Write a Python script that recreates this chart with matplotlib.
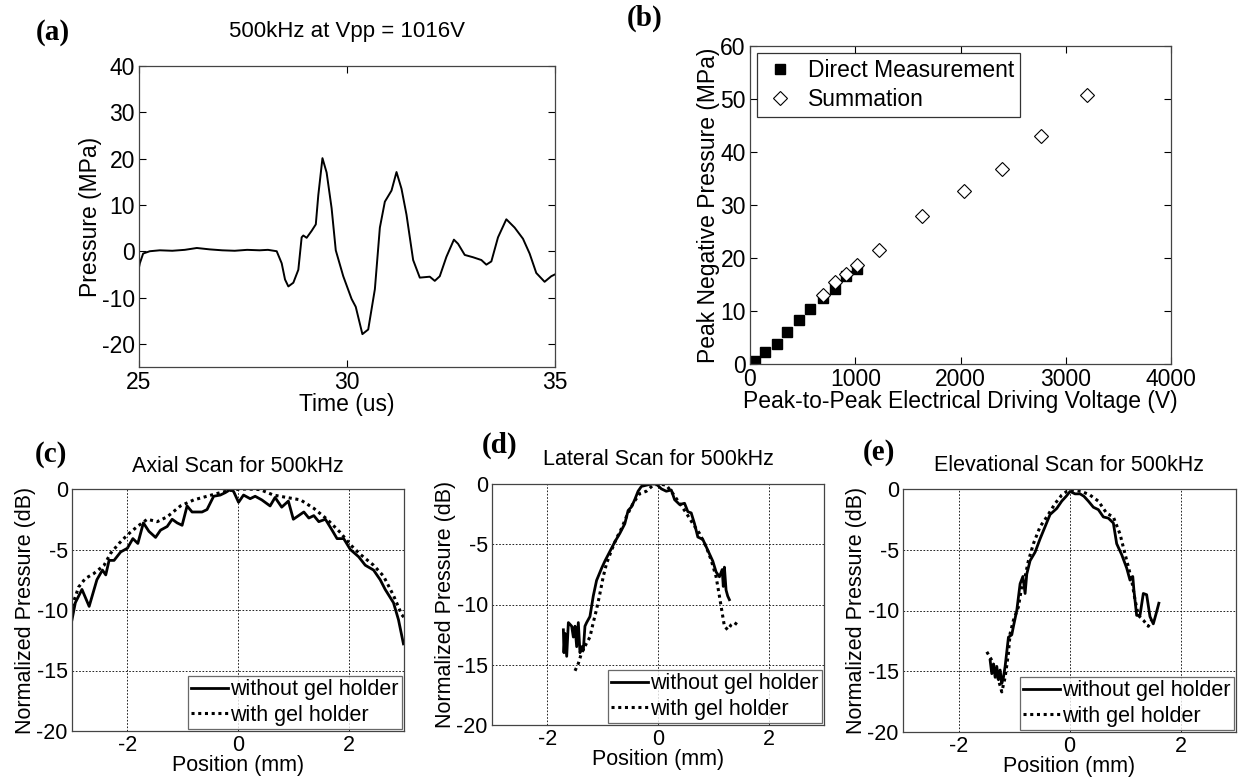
import numpy as np
import matplotlib
matplotlib.use("Agg")
import matplotlib.pyplot as plt

plt.rcParams['font.family'] = ['Liberation Sans', 'DejaVu Sans']
plt.rcParams['axes.unicode_minus'] = False

# (a) waveform
t_a = [25.0, 25.02, 25.1, 25.26, 25.5, 25.8, 26.1, 26.39, 26.7, 27.0, 27.3, 27.6,
       27.9, 28.1, 28.31, 28.43, 28.51, 28.59, 28.71, 28.83, 28.91, 28.95, 29.03,
       29.15, 29.25, 29.31, 29.41, 29.51, 29.63, 29.73, 29.91, 30.11, 30.21, 30.37,
       30.51, 30.67, 30.79, 30.91, 31.07, 31.19, 31.31, 31.43, 31.59, 31.75, 31.99,
       32.11, 32.23, 32.39, 32.57, 32.67, 32.83, 33.03, 33.23, 33.35, 33.47, 33.63,
       33.83, 34.03, 34.23, 34.39, 34.55, 34.75, 34.91, 35.0]
p_a = [-3.5, -2.6, -0.5, 0.0, 0.2, 0.1, 0.3, 0.7, 0.4, 0.2, 0.1, 0.3,
       0.2, 0.3, 0.0, -2.6, -6.1, -7.6, -6.8, -4.0, 3.0, 3.4, 2.9,
       4.4, 5.8, 12.1, 20.1, 17.0, 9.3, 0.2, -5.4, -10.3, -12.0, -17.9,
       -16.9, -8.2, 5.1, 10.7, 13.1, 17.1, 13.5, 7.9, -1.9, -5.7, -5.5,
       -6.4, -5.4, -1.2, 2.5, 1.6, -0.8, -1.3, -1.9, -2.9, -2.2, 3.0,
       6.9, 5.1, 2.7, -0.5, -4.7, -6.6, -5.4, -5.0]

# (b) peak negative pressure vs voltage
v_direct = [45, 140, 254, 352, 462, 572, 692, 805, 914, 1018]
p_direct = [0.5, 2.2, 3.8, 6.0, 8.3, 10.4, 12.5, 14.1, 16.6, 18.0]
v_sum = [692, 805, 914, 1018, 1229, 1632, 2031, 2395, 2767, 3198]
p_sum = [13.0, 15.4, 16.9, 18.6, 21.5, 28.0, 32.7, 36.8, 43.1, 50.8]

# (c) axial scan
xc_no = [-3.0, -2.94, -2.82, -2.69, -2.55, -2.45, -2.39, -2.33, -2.24, -2.12, -2.0,
         -1.9, -1.81, -1.71, -1.61, -1.49, -1.4, -1.28, -1.19, -1.1, -1.01, -0.92,
         -0.83, -0.65, -0.56, -0.44, -0.32, -0.23, -0.14, -0.08, 0.01, 0.1, 0.22,
         0.31, 0.43, 0.58, 0.67, 0.79, 0.91, 1.0, 1.19, 1.28, 1.37, 1.46, 1.58,
         1.7, 1.79, 1.91, 2.03, 2.18, 2.3, 2.45, 2.57, 2.66, 2.81, 2.9, 2.99]
yc_no = [-10.8, -9.4, -8.3, -9.7, -7.5, -6.7, -7.1, -5.9, -5.9, -5.2, -4.9,
         -4.1, -4.5, -2.8, -3.5, -4.0, -3.4, -3.1, -2.5, -2.8, -3.0, -1.4,
         -1.9, -1.9, -1.7, -0.6, -0.5, -0.3, -0.05, -0.2, -1.1, -0.5, -0.8,
         -0.6, -0.9, -1.4, -0.7, -1.5, -1.0, -2.5, -1.9, -2.4, -2.2, -2.7, -2.5,
         -3.4, -4.1, -4.1, -5.0, -5.6, -6.3, -6.7, -7.5, -8.3, -9.4, -10.8, -12.8]
xc_gel = [-3.0, -2.88, -2.76, -2.61, -2.42, -2.3, -2.15, -2.0, -1.82, -1.64, -1.46,
          -1.28, -1.04, -0.8, -0.56, -0.32, -0.08, 0.16, 0.4, 0.64, 0.88, 1.13,
          1.37, 1.61, 1.85, 2.03, 2.21, 2.45, 2.63, 2.81, 2.96, 3.0]
yc_gel = [-9.7, -8.1, -7.4, -7.0, -6.3, -5.3, -4.5, -3.8, -3.1, -2.5, -2.7,
          -2.3, -1.4, -0.9, -0.6, -0.3, -0.05, 0.0, -0.05, -0.5, -0.7, -0.9,
          -1.6, -2.5, -3.6, -4.6, -5.4, -6.3, -7.2, -8.8, -10.4, -10.6]

# (d) lateral scan
xd_no = [-1.71, -1.7, -1.68, -1.65, -1.62, -1.56, -1.53, -1.5, -1.47, -1.44, -1.41,
         -1.38, -1.35, -1.32, -1.29, -1.23, -1.17, -1.11, -1.02, -0.96, -0.87, -0.78,
         -0.69, -0.6, -0.54, -0.48, -0.42, -0.36, -0.3, -0.21, -0.12, -0.03, 0.06,
         0.15, 0.24, 0.3, 0.39, 0.48, 0.54, 0.6, 0.66, 0.72, 0.81, 0.9, 0.99,
         1.05, 1.11, 1.16, 1.18, 1.2, 1.23, 1.26, 1.29]
yd_no = [-12.1, -14.0, -12.4, -14.3, -11.5, -11.8, -12.7, -11.8, -13.5, -11.5, -14.0,
         -13.5, -13.8, -11.8, -11.5, -11.0, -9.3, -8.0, -7.0, -6.4, -5.6, -4.8,
         -4.1, -3.3, -2.2, -1.9, -1.3, -0.6, -0.2, -0.1, 0.0, 0.0, -0.4,
         -0.6, -0.5, -1.3, -1.7, -1.6, -2.3, -2.4, -3.3, -4.4, -4.6, -5.5, -6.4,
         -7.3, -7.7, -7.1, -8.5, -6.9, -8.8, -9.3, -9.6]
xd_gel = [-1.5, -1.44, -1.38, -1.29, -1.23, -1.17, -1.11, -1.05, -0.99, -0.93, -0.84,
          -0.75, -0.66, -0.57, -0.45, -0.33, -0.21, -0.09, 0.03, 0.15, 0.27, 0.39,
          0.51, 0.63, 0.75, 0.87, 0.96, 1.05, 1.11, 1.16, 1.2, 1.26, 1.32, 1.38, 1.47]
yd_gel = [-15.5, -14.9, -14.0, -13.2, -12.7, -11.5, -10.4, -9.1, -7.7, -6.6, -5.5,
          -4.5, -3.7, -2.7, -1.6, -0.8, -0.6, -0.1, 0.0, -0.1, -0.8, -1.6,
          -2.4, -3.3, -4.1, -5.2, -6.3, -7.7, -9.3, -10.7, -11.8, -12.1, -11.7, -11.5, -11.8]

# (e) elevational scan
xe_no = [-1.43, -1.4, -1.37, -1.34, -1.31, -1.28, -1.25, -1.22, -1.19, -1.16, -1.1,
         -1.04, -1.01, -0.95, -0.89, -0.84, -0.8, -0.77, -0.71, -0.62, -0.53, -0.44,
         -0.35, -0.23, -0.14, -0.06, 0.01, 0.1, 0.19, 0.26, 0.34, 0.43, 0.52, 0.61,
         0.7, 0.79, 0.85, 0.94, 1.03, 1.09, 1.14, 1.16, 1.21, 1.27, 1.33, 1.39,
         1.45, 1.51, 1.57, 1.61]
ye_no = [-14.1, -15.2, -14.4, -15.5, -14.6, -15.7, -14.9, -16.0, -15.5, -14.6, -12.2,
         -12.0, -11.3, -10.0, -7.8, -7.2, -8.6, -7.0, -5.9, -5.2, -4.1, -3.1,
         -2.1, -1.6, -1.0, -0.6, -0.2, -0.4, -0.4, -0.6, -1.0, -1.5, -1.7, -2.3,
         -2.4, -2.8, -4.5, -5.4, -6.5, -7.5, -7.2, -8.3, -10.4, -10.4, -8.6, -8.7,
         -10.5, -11.1, -10.1, -9.4]
xe_gel = [-1.49, -1.4, -1.31, -1.22, -1.16, -1.1, -1.07, -1.01, -0.92, -0.86, -0.8,
          -0.74, -0.65, -0.53, -0.41, -0.26, -0.14, -0.05, 0.07, 0.22, 0.37, 0.52,
          0.67, 0.79, 0.91, 0.97, 1.06, 1.12, 1.18, 1.24, 1.33, 1.42, 1.48]
ye_gel = [-13.4, -14.1, -15.2, -16.7, -15.5, -13.5, -11.9, -10.8, -9.7, -8.0, -7.2,
          -5.9, -4.5, -3.1, -2.3, -1.2, -0.5, -0.2, -0.1, -0.2, -0.5, -1.0,
          -2.0, -2.3, -3.7, -4.8, -6.4, -7.5, -9.1, -10.4, -10.8, -11.3, -10.8]

W, H = 1241, 781
fig = plt.figure(figsize=(W / 100, H / 100), dpi=100)


def add_ax(l, t, r, b):
    return fig.add_axes([l / W, 1 - b / H, (r - l) / W, (b - t) / H])


def style(ax, fs):
    ax.tick_params(direction='in', top=True, right=True, length=5, labelsize=fs,
                   width=0.8, pad=3)
    for s in ax.spines.values():
        s.set_color('#444444')
        s.set_linewidth(0.9)


# panel (a)
ax = add_ax(139, 66, 555, 367)
ax.plot(t_a, p_a, color='black', lw=1.4)
ax.set_xlim(25, 35)
ax.set_ylim(-25, 40)
ax.set_xticks([25, 30, 35])
ax.set_yticks(range(-20, 41, 10))
style(ax, 16.5)
ax.set_xlabel('Time (us)', fontsize=16.5, labelpad=-1)
ax.set_ylabel('Pressure (MPa)', fontsize=16.5, labelpad=0)
ax.set_title('500kHz at Vpp = 1016V', fontsize=16, pad=21)

# panel (b)
ax = add_ax(750, 46, 1171, 364)
ax.plot(v_direct, p_direct, 's', color='black', ms=7.5, label='Direct Measurement')
ax.plot(v_sum, p_sum, 'D', mfc='white', mec='black', mew=0.8, ms=7.5, label='Summation')
ax.set_xlim(0, 4000)
ax.set_ylim(0, 60)
ax.set_xticks(range(0, 4001, 1000))
ax.set_yticks(range(0, 61, 10))
style(ax, 16.5)
ax.set_xlabel('Peak-to-Peak Electrical Driving Voltage (V)', fontsize=16.5, labelpad=-1)
ax.set_ylabel('Peak Negative Pressure (MPa)', fontsize=16.5, labelpad=0)
leg = ax.legend(loc='upper left', fontsize=16.5, frameon=True, fancybox=False,
                edgecolor='black', borderaxespad=0.3, handletextpad=0.5,
                labelspacing=0.3, borderpad=0.25, handlelength=1.5)
leg.get_frame().set_linewidth(0.9)

# panels (c), (d), (e)
scans = [
    ((72, 489, 404, 731), xc_no, yc_no, xc_gel, yc_gel, 'Axial Scan for 500kHz', 12),
    ((492, 484, 824, 725), xd_no, yd_no, xd_gel, yd_gel, 'Lateral Scan for 500kHz', 14),
    ((903, 489, 1236, 732), xe_no, ye_no, xe_gel, ye_gel, 'Elevational Scan for 500kHz', 13),
]
for box, xn, yn, xg, yg, title, tpad in scans:
    ax = add_ax(*box)
    ax.plot(xn, yn, color='black', lw=2.0, label='without gel holder')
    ax.plot(xg, yg, color='black', lw=2.2, ls=(0, (1, 1.2)), label='with gel holder')
    ax.set_xlim(-3, 3)
    ax.set_ylim(-20, 0)
    ax.set_xticks([-2, 0, 2])
    ax.set_yticks([-20, -15, -10, -5, 0])
    ax.grid(True, color='black', ls=(0, (2, 2)), lw=0.6)
    style(ax, 15.5)
    ax.tick_params(length=0)
    ax.set_xlabel('Position (mm)', fontsize=15.5, labelpad=-1)
    ax.set_ylabel('Normalized Pressure (dB)', fontsize=15.5, labelpad=0)
    ax.set_title(title, fontsize=15.5, pad=tpad)
    leg = ax.legend(loc='lower right', fontsize=15.5, frameon=True, fancybox=False,
                    edgecolor='#444444', borderaxespad=0.1, handlelength=1.7,
                    handletextpad=0.1, labelspacing=0.2, borderpad=0.15)
    leg.get_frame().set_linewidth(0.9)

# panel letters
for txt, x, y in [('(a)', 36, 33), ('(b)', 627, 18), ('(c)', 35, 455),
                  ('(d)', 482, 445), ('(e)', 863, 452)]:
    fig.text(x / W, 1 - y / H, txt, fontsize=21, fontweight='bold',
             family='Liberation Serif', va='center', ha='left')

fig.savefig('out.png', dpi=100)
